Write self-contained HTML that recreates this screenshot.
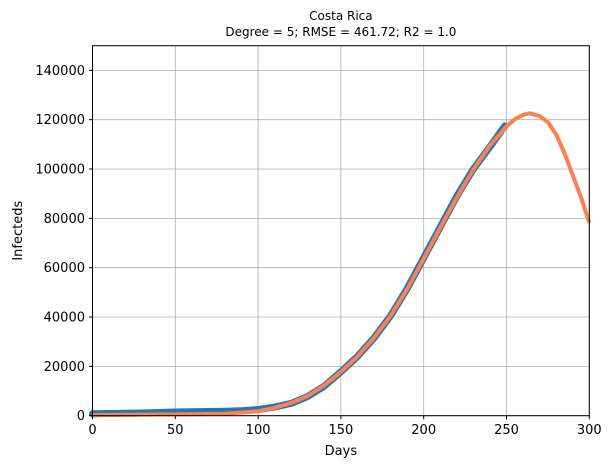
<!DOCTYPE html>
<html><head><meta charset="utf-8"><style>
body{margin:0;background:#fff;}
svg{display:block;font-family:"DejaVu Sans","Liberation Sans",sans-serif;}
</style></head><body>
<svg id="chart" width="611" height="468">
<g id="grid"></g>
<g id="series"></g>
<rect x="92.5" y="45.7" width="496.8" height="370" fill="none" stroke="#000" stroke-width="1"/>
<g id="ticks" font-size="13" fill="#000"></g>
<text x="340.9" y="20" font-size="12" text-anchor="middle">Costa Rica</text>
<text x="340.9" y="36" font-size="12" text-anchor="middle">Degree = 5; RMSE = 461.72; R2 = 1.0</text>
<text x="340.9" y="455" font-size="13" text-anchor="middle">Days</text>
<text x="22" y="230.7" font-size="13" text-anchor="middle" transform="rotate(-90 22 230.7)">Infecteds</text>
</svg>
<script>
const xTicks=[0,50,100,150,200,250,300];
const yTicks=[0,20000,40000,60000,80000,100000,120000,140000];
const dataDays=[0,10,20,30,40,50,60,70,80,90,100,110,120,130,140,150,160,170,180,190,200,210,220,230,240,249];
const dataValues=[800,900,1000,1100,1300,1500,1600,1700,1800,2000,2500,3500,5000,7800,12000,17800,24000,31500,40500,51500,64000,76500,89000,100000,109000,117500];
const fitDays=[0,20,40,60,80,100,110,120,130,140,150,160,170,180,190,200,210,220,230,240,250,255,260,264,270,275,280,285,290,295,300];
const fitValues=[300,400,500,600,800,1800,3200,5200,8000,12300,17800,24000,31500,40500,51300,63700,76200,88500,99800,109500,117300,120200,122000,122600,121500,119000,114000,106500,97500,88500,78200];
const sx=d=>92.5+d*(496.8/300);
const sy=v=>415.7-v*(370/150000);
const ns="http://www.w3.org/2000/svg";
const grid=document.getElementById('grid'),ticks=document.getElementById('ticks'),series=document.getElementById('series');
function mk(t,a,p){const e=document.createElementNS(ns,t);for(const k in a)e.setAttribute(k,a[k]);p.appendChild(e);return e;}
xTicks.forEach(d=>{const x=sx(d);
 const g=mk('line',{x1:x,x2:x,y1:45.7,y2:415.7,stroke:'#b0b0b0','stroke-width':0.8},grid);
 
 
 mk('line',{x1:x,x2:x,y1:415.7,y2:419.2,stroke:'#000'},ticks);
 const t=mk('text',{x:x,y:434,'text-anchor':'middle'},ticks);t.textContent=d;
 
 
});
yTicks.forEach(v=>{const y=sy(v);
 const g=mk('line',{x1:92.5,x2:589.3,y1:y,y2:y,stroke:'#b0b0b0','stroke-width':0.8},grid);
 
 
 mk('line',{x1:89,x2:92.5,y1:y,y2:y,stroke:'#000'},ticks);
 const t=mk('text',{x:85,y:y+4.5,'text-anchor':'end'},ticks);t.textContent=v;
 
 
});
const d1=mk('polyline',{points:dataDays.map((d,i)=>sx(d)+','+sy(dataValues[i])).join(' '),fill:'none',stroke:'#1f77b4','stroke-width':7,'stroke-linejoin':'round','stroke-linecap':'round'},series);


const d2=mk('polyline',{points:fitDays.map((d,i)=>sx(d)+','+sy(fitValues[i])).join(' '),fill:'none',stroke:'#ff7f50','stroke-width':4,'stroke-linejoin':'round'},series);


</script>
</body></html>
